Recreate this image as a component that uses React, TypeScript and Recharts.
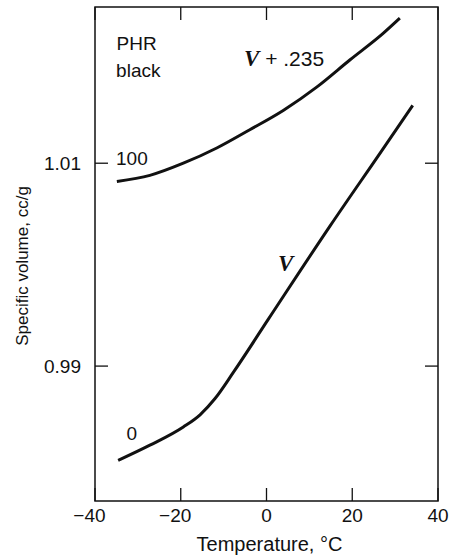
import {
  Line,
  LineChart,
  ReferenceArea,
  ReferenceDot,
  XAxis,
  YAxis,
} from "recharts";

// 100 PHR black, plotted as V + .235
const blackTemps = [-34.9, -27.2, -19.4, -11.6, -3.9, 3.9, 11.7, 19.5, 27.2, 31.1];
const blackVols = [1.0082, 1.0088, 1.01, 1.0115, 1.0133, 1.0152, 1.0175, 1.0202, 1.0228, 1.0243];

// 0 PHR black (gum)
const gumTemps = [-34.6, -27.2, -19.4, -15.5, -12.0, -7.7, 0.4, 14.8, 26.5, 34.1];
const gumVols = [0.9807, 0.9822, 0.984, 0.9852, 0.9868, 0.9894, 0.9946, 1.0038, 1.011, 1.0157];

const xTicks = [-40, -20, 0, 20, 40];
const yTicks = [0.99, 1.01];
const xDomain: [number, number] = [-40, 40];
const yDomain: [number, number] = [0.9767, 1.0254];

const blackData = blackTemps.map((t, i) => ({ t, v: blackVols[i] }));
const gumData = gumTemps.map((t, i) => ({ t, v: gumVols[i] }));

const SANS = "'Liberation Sans', Arial, Helvetica, sans-serif";
const SERIF = "'Liberation Serif', 'Times New Roman', serif";
const INK = "#111";
const FS = 19;
const PLOT_W = 343;
const PLOT_H = 494;
const TICK = 13;

function XTick({ x, y, payload }: any) {
  const v = payload.value as number;
  const digits = String(Math.abs(v));
  const half = (digits.length * 0.556 * FS) / 2;
  return (
    <g>
      <line x1={x} y1={y} x2={x} y2={y - TICK} stroke={INK} strokeWidth={1.3} />
      <line x1={x} y1={y - PLOT_H} x2={x} y2={y - PLOT_H + TICK} stroke={INK} strokeWidth={1.3} />
      <text x={x + half} y={y + 21} textAnchor="end" fontFamily={SANS} fontSize={FS} fill={INK}>
        {v < 0 ? "\u2212" + digits : digits}
      </text>
    </g>
  );
}

function YTick({ x, y, payload }: any) {
  return (
    <g>
      <line x1={x} y1={y} x2={x + TICK} y2={y} stroke={INK} strokeWidth={1.3} />
      <line x1={x + PLOT_W} y1={y} x2={x + PLOT_W - TICK} y2={y} stroke={INK} strokeWidth={1.3} />
      <text x={x - 14} y={y + 7} textAnchor="end" fontFamily={SANS} fontSize={FS} fill={INK}>
        {String(payload.value)}
      </text>
    </g>
  );
}

function note(text: string, italic = false, size = FS) {
  return ({ viewBox }: any) => {
    const cx = viewBox.x + viewBox.width / 2;
    const cy = viewBox.y + viewBox.height / 2;
    return (
      <text x={cx} y={cy + 7} textAnchor="middle" fontFamily={SANS} fontSize={size} fill={INK}>
        {italic ? (
          <tspan fontFamily={SERIF} fontStyle="italic" fontWeight="bold" fontSize={23}>
            V
          </tspan>
        ) : null}
        {text}
      </text>
    );
  };
}

export default function App() {
  return (
    <div
      style={{
        position: "fixed",
        left: 0,
        top: 0,
        width: 451,
        height: 557,
        overflow: "hidden",
        background: "#fff",
      }}
    >
      <LineChart width={451} height={557} margin={{ top: 7, right: 13, bottom: 0, left: 0 }}>
        <XAxis
          type="number"
          dataKey="t"
          domain={xDomain}
          ticks={xTicks}
          allowDataOverflow
          height={56}
          tickSize={0}
          tickMargin={0}
          axisLine={false}
          tick={<XTick />}
          label={{
            content: ({ viewBox }: any) => (
              <text
                x={viewBox.x + viewBox.width / 2 + 3}
                y={551}
                textAnchor="middle"
                fontFamily={SANS}
                fontSize={20}
                fill={INK}
              >
                Temperature, °C
              </text>
            ),
          }}
        />
        <YAxis
          type="number"
          dataKey="v"
          domain={yDomain}
          ticks={yTicks}
          allowDataOverflow
          width={95}
          tickSize={0}
          tickMargin={0}
          axisLine={false}
          tick={<YTick />}
          label={{
            content: ({ viewBox }: any) => {
              const cy = viewBox.y + viewBox.height / 2 + 12;
              return (
                <text
                  x={28}
                  y={cy}
                  transform={`rotate(-90, 28, ${cy})`}
                  textAnchor="middle"
                  fontFamily={SANS}
                  fontSize={17}
                  fill={INK}
                >
                  Specific volume, cc/g
                </text>
              );
            },
          }}
        />
        <ReferenceArea
          x1={xDomain[0]}
          x2={xDomain[1]}
          y1={yDomain[0]}
          y2={yDomain[1]}
          fill="none"
          stroke={INK}
          strokeWidth={1.5}
          ifOverflow="visible"
        />
        <Line
          data={blackData}
          dataKey="v"
          type="monotone"
          stroke={INK}
          strokeWidth={3}
          dot={false}
          isAnimationActive={false}
        />
        <Line
          data={gumData}
          dataKey="v"
          type="monotone"
          stroke={INK}
          strokeWidth={3}
          dot={false}
          isAnimationActive={false}
        />
        <ReferenceDot x={-30.3} y={1.0219} r={0} label={{ content: note("PHR") }} />
        <ReferenceDot x={-29.9} y={1.0192} r={0} label={{ content: note("black") }} />
        <ReferenceDot x={4.1} y={1.0203} r={0} label={{ content: note(" + .235", true, 21) }} />
        <ReferenceDot x={-31.4} y={1.0105} r={0} label={{ content: note("100") }} />
        <ReferenceDot x={-31.4} y={0.9834} r={0} label={{ content: note("0") }} />
        <ReferenceDot x={4.5} y={1.0001} r={0} label={{ content: note("", true) }} />
      </LineChart>
    </div>
  );
}
